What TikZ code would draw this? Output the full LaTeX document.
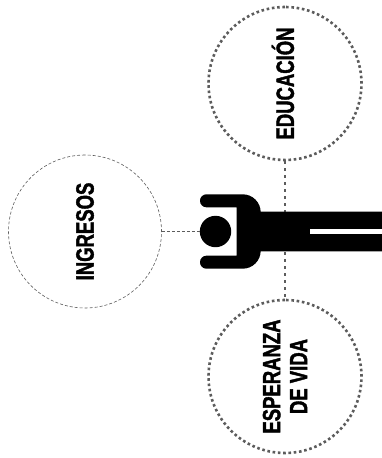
\documentclass[tikz,border=0pt]{standalone}
\usepackage{fontspec}
\newfontfamily\capfont[FakeStretch=0.74,FakeBold=1.6]{Liberation Sans}
\usepackage{xcolor}
\definecolor{ringgray}{gray}{0.36}

\begin{document}
\begin{tikzpicture}[
    x=1pt, y=-1pt,
    ringthin/.style={circle, draw=ringgray, line width=0.6pt, dash pattern=on 3pt off 2pt, minimum size=153pt, inner sep=0pt, rotate=90, align=center, font=\capfont\bfseries\fontsize{25}{27}\selectfont},
    ringdot/.style={ringthin, line width=2.6pt, dash pattern=on 2.6pt off 2.7pt},
    linkthin/.style={draw=ringgray, line width=0.6pt, dash pattern=on 3pt off 2pt},
    linkdot/.style={draw=ringgray, line width=2.8pt, dash pattern=on 2.8pt off 4.2pt},
    person/.style={fill=black}
]
    \useasboundingbox (0,0) rectangle (382,458);
    \node[ringthin] (ingresos) at (85,231.5) {INGRESOS};
    \node[ringdot, text height=18pt] (educacion) at (285,83.5) {EDUCACIÓN};
    \node[ringdot] (esperanza) at (285,376.5) {ESPERANZA\\DE VIDA};
    \node[circle, person, minimum size=31.4pt, inner sep=0pt] (head) at (215.5,231.5) {};
    \draw[linkthin] (ingresos) -- (head);
    \draw[linkdot] (educacion) -- (esperanza);
    % arms, trunk and legs
    \fill[person, rounded corners=6.4pt] (236.7,207.3) -- (200,207.3) -- (200,194.3) [rounded corners=18pt] -- (260.7,194.3) [sharp corners] -- (260.7,211.7) -- (382,211.7) -- (382,251.3) -- (260.7,251.3) [rounded corners=18pt] -- (260.7,268.7) [rounded corners=6.4pt] -- (200,268.7) -- (200,255.7) [sharp corners] -- (236.7,255.7) -- cycle;
    \fill[white] (309.7,229.3) rectangle (382,233.7);
\end{tikzpicture}
\end{document}
